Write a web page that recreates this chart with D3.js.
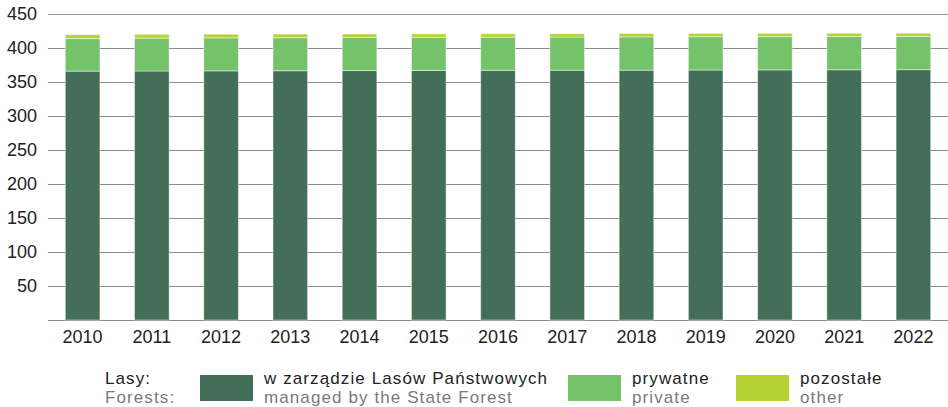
<!DOCTYPE html>
<html>
<head>
<meta charset="utf-8">
<script src="https://cdn.jsdelivr.net/npm/d3@7"></script>
<style>
  body { margin: 0; background: #fff; }
  svg text { font-family: "Liberation Sans", Arial, sans-serif; }
</style>
</head>
<body>
<div id="chart"></div>
<script>
// years on the x axis
const years = ["2010","2011","2012","2013","2014","2015","2016","2017","2018","2019","2020","2021","2022"];
// stacked series, bottom to top
const managed = [366.0, 366.2, 366.4, 366.6, 366.8, 367.0, 367.2, 367.3, 367.4, 367.6, 367.8, 368.0, 368.2];
const privateF = [47.8, 48.3, 48.5, 48.6, 48.6, 48.6, 48.7, 48.8, 49.0, 49.0, 48.9, 48.8, 48.7];
const other = [5.8, 5.6, 5.4, 5.3, 5.2, 5.1, 5.0, 4.9, 4.9, 4.9, 4.9, 4.9, 4.9];
const yTicks = [50, 100, 150, 200, 250, 300, 350, 400, 450];

const seriesKeys = ["managed", "private", "other"];
const colors = { managed: "#436e57", private: "#74c26a", other: "#b5d334" };
const labelsPl = { managed: "w zarządzie Lasów Państwowych", private: "prywatne", other: "pozostałe" };
const labelsEn = { managed: "managed by the State Forest", private: "private", other: "other" };

const rows = years.map((y, i) => ({ year: y, managed: managed[i], private: privateF[i], other: other[i] }));

const W = 948, H = 407;
const margin = { left: 48, right: 0, top: 14, bottom: 87 };
const fs = 18;

const svg = d3.select("#chart").append("svg")
  .attr("width", W)
  .attr("height", H);

const x = d3.scaleBand()
  .domain(years)
  .range([margin.left, W - margin.right])
  .paddingInner(0.5)
  .paddingOuter(0.25);

const y = d3.scaleLinear()
  .domain([0, 450])
  .range([H - margin.bottom, margin.top]);

// gridlines
svg.append("g")
  .selectAll("line")
  .data([0].concat(yTicks))
  .join("line")
  .attr("x1", margin.left)
  .attr("x2", W)
  .attr("y1", d => Math.round(y(d)) + 0.5)
  .attr("y2", d => Math.round(y(d)) + 0.5)
  .attr("stroke", d => d === 450 ? "#9a9a9a" : "#8c8c8c")
  .attr("stroke-width", 1.2);

// y labels
svg.append("g")
  .selectAll("text")
  .data(yTicks)
  .join("text")
  .attr("x", 37)
  .attr("y", d => y(d))
  .attr("dy", "0.35em")
  .attr("text-anchor", "end")
  .attr("font-size", fs)
  .attr("fill", "#222")
  .text(d => d);

// stacked bars
const stack = d3.stack().keys(seriesKeys)(rows);

svg.append("g")
  .selectAll("g")
  .data(stack)
  .join("g")
  .attr("fill", d => colors[d.key])
  .selectAll("rect")
  .data(d => d)
  .join("rect")
  .attr("x", d => x(d.data.year))
  .attr("width", x.bandwidth())
  .attr("y", d => y(d[1]))
  .attr("height", d => y(d[0]) - y(d[1]))
  .attr("stroke", "rgba(255,255,255,0.45)")
  .attr("stroke-width", 1);

// x labels
svg.append("g")
  .selectAll("text")
  .data(years)
  .join("text")
  .attr("x", d => x(d) + x.bandwidth() / 2)
  .attr("y", 343)
  .attr("text-anchor", "middle")
  .attr("font-size", fs)
  .attr("fill", "#222")
  .text(d => d);

// legend
const legend = svg.append("g")
  .attr("font-size", 17)
  .attr("letter-spacing", "1.1px");
legend.append("text").attr("x", 105).attr("y", 384.3).attr("fill", "#222").text("Lasy:");
legend.append("text").attr("x", 105).attr("y", 402.7).attr("fill", "#7a7a7a").text("Forests:");

const legendX = { managed: 200, private: 568, other: 736 };
seriesKeys.forEach(k => {
  legend.append("rect")
    .attr("x", legendX[k]).attr("y", 375)
    .attr("width", 53).attr("height", 26)
    .attr("fill", colors[k]);
  legend.append("text")
    .attr("x", legendX[k] + 64).attr("y", 384.3)
    .attr("fill", "#222")
    .text(labelsPl[k]);
  legend.append("text")
    .attr("x", legendX[k] + 64).attr("y", 402.7)
    .attr("fill", "#7a7a7a")
    .text(labelsEn[k]);
});
</script>
</body>
</html>
